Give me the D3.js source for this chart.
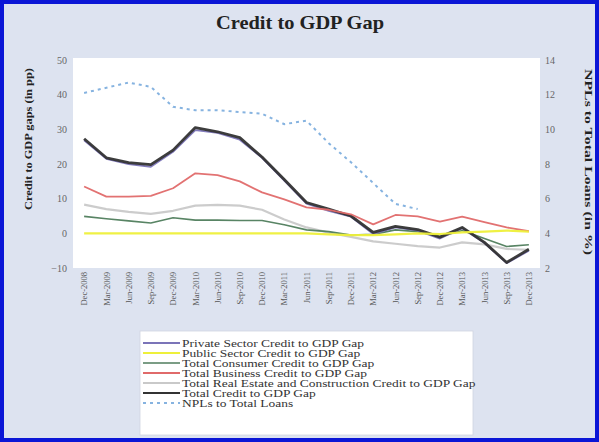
<!DOCTYPE html>
<html>
<head>
<meta charset="utf-8">
<script src="https://cdn.jsdelivr.net/npm/d3@7"></script>
<style>
  html, body { margin: 0; padding: 0; background: #fff; }
  svg { display: block; font-family: "Liberation Serif", "Times New Roman", serif; }
</style>
</head>
<body>
<svg id="chart" width="599" height="442"></svg>
<script>
// Quarterly periods
const quarters = [
  "Dec-2008", "Mar-2009", "Jun-2009", "Sep-2009", "Dec-2009", "Mar-2010", "Jun-2010",
  "Sep-2010", "Dec-2010", "Mar-2011", "Jun-2011", "Sep-2011", "Dec-2011", "Mar-2012",
  "Jun-2012", "Sep-2012", "Dec-2012", "Mar-2013", "Jun-2013", "Sep-2013", "Dec-2013"
];

// Credit to GDP gaps, percentage points (left axis)
const privateSector = [26.8, 21.5, 20.0, 19.2, 23.5, 29.8, 29.0, 27.0, 21.8, 15.2, 8.6, 6.5, 4.8, -0.2, 1.7, 0.8, -1.5, 1.5, -2.8, -8.6, -5.0];
const publicSector  = [0.0, 0.0, 0.0, 0.0, 0.0, 0.0, 0.0, 0.0, 0.0, 0.0, 0.0, -0.3, -0.5, -0.5, -0.3, 0.0, -0.2, 0.3, 0.5, 0.8, 0.5];
const consumer      = [4.9, 4.2, 3.6, 3.0, 4.5, 3.8, 3.8, 3.7, 3.7, 2.5, 1.0, 0.5, -0.5, -0.3, 1.0, 0.5, -1.0, 0.8, -1.5, -3.8, -3.3];
const business      = [13.5, 10.6, 10.6, 10.8, 13.0, 17.3, 16.8, 15.0, 11.8, 9.8, 7.5, 6.8, 5.5, 2.6, 5.3, 4.9, 3.4, 4.8, 3.2, 1.7, 0.6];
const realEstate    = [8.3, 7.0, 6.2, 5.6, 6.5, 8.0, 8.2, 8.0, 6.8, 4.0, 1.7, 0.2, -1.0, -2.3, -3.0, -3.7, -4.1, -2.6, -3.2, -4.5, -4.8];
const totalCredit   = [27.3, 21.8, 20.4, 19.8, 24.0, 30.5, 29.3, 27.6, 22.0, 15.5, 8.9, 7.0, 5.0, 0.3, 2.0, 1.1, -1.1, 1.7, -2.6, -8.4, -4.6];

// NPLs to total loans, % (right axis)
const npl = [12.1, 12.4, 12.7, 12.45, 11.3, 11.1, 11.1, 11.0, 10.9, 10.3, 10.5, 9.2, 8.1, 6.9, 5.7, 5.4, null, null, null, null, null];

const leftTicks  = [-10, 0, 10, 20, 30, 40, 50];
const rightTicks = [2, 4, 6, 8, 10, 12, 14];

const gapSeries = [
  { name: "Private Sector Credit to GDP Gap", values: privateSector, color: "#7b74b8", width: 1.8 },
  { name: "Public Sector Credit to GDP Gap", values: publicSector, color: "#eef03a", width: 2.2 },
  { name: "Total Consumer Credit to GDP Gap", values: consumer, color: "#4f7d5c", width: 1.6 },
  { name: "Total Business Credit to GDP Gap", values: business, color: "#e06a6a", width: 1.8 },
  { name: "Total Real Estate and Construction Credit to GDP Gap", values: realEstate, color: "#c9c9c9", width: 2.2 },
  { name: "Total Credit to GDP Gap", values: totalCredit, color: "#333333", width: 2.8 }
];
const nplSeries = { name: "NPLs to Total Loans", values: npl, color: "#86b3e0", width: 2, dash: "3,4" };

const svg = d3.select("#chart");
const W = 599, H = 442;

// Frame and background
svg.append("rect").attr("x", 2).attr("y", 2).attr("width", W - 4).attr("height", H - 4)
  .attr("fill", "#dde3f0").attr("stroke", "#0b16d6").attr("stroke-width", 4);

const plot = { left: 73, right: 540, top: 58, bottom: 268 };

svg.append("rect").attr("x", plot.left).attr("y", plot.top)
  .attr("width", plot.right - plot.left).attr("height", plot.bottom - plot.top)
  .attr("fill", "#ffffff");

const x = d3.scalePoint().domain(quarters).range([plot.left, plot.right]).padding(0.5);
const yL = d3.scaleLinear().domain([-10, 50]).range([plot.bottom, plot.top + 2]);
const yR = d3.scaleLinear().domain([2, 14]).range([plot.bottom, plot.top + 2]);

// Title
svg.append("text").attr("x", 300).attr("y", 29).attr("text-anchor", "middle")
  .attr("font-size", 19).attr("font-weight", "bold").attr("fill", "#222")
  .attr("textLength", 168).attr("lengthAdjust", "spacingAndGlyphs")
  .text("Credit to GDP Gap");

// Left axis
const axL = svg.append("g").attr("transform", `translate(${plot.left - 6},0)`)
  .call(d3.axisLeft(yL).tickValues(leftTicks).tickSize(0).tickPadding(0));
axL.select(".domain").remove();
axL.selectAll("text").attr("font-size", 10).attr("fill", "#666").attr("font-family", "Liberation Serif, serif");

// Right axis
const axR = svg.append("g").attr("transform", `translate(${plot.right + 5},0)`)
  .call(d3.axisRight(yR).tickValues(rightTicks).tickSize(0).tickPadding(0));
axR.select(".domain").remove();
axR.selectAll("text").attr("font-size", 10).attr("fill", "#666").attr("font-family", "Liberation Serif, serif");

// Category axis, labels rotated
const axX = svg.append("g").attr("transform", `translate(0,${plot.bottom})`)
  .call(d3.axisBottom(x).tickSize(0).tickPadding(0));
axX.select(".domain").remove();
axX.selectAll("text")
  .attr("font-size", 8.5).attr("fill", "#555").attr("font-family", "Liberation Serif, serif")
  .attr("text-anchor", "end").attr("dy", "0.32em")
  .attr("transform", "translate(0,4) rotate(-90)")
  .attr("x", 0).attr("y", 0);

// Axis titles
svg.append("text").attr("transform", "translate(32,139) rotate(-90)")
  .attr("text-anchor", "middle").attr("font-size", 11).attr("font-weight", "bold").attr("fill", "#222")
  .attr("textLength", 142).attr("lengthAdjust", "spacingAndGlyphs")
  .text("Credit to GDP gaps (in pp)");
svg.append("text").attr("transform", "translate(585,162) rotate(90)")
  .attr("text-anchor", "middle").attr("font-size", 11).attr("font-weight", "bold").attr("fill", "#222")
  .attr("textLength", 186).attr("lengthAdjust", "spacingAndGlyphs")
  .text("NPLs to Total Loans (in %)");

// Lines
const lineL = d3.line().defined(d => d != null).x((d, i) => x(quarters[i])).y(d => yL(d));
const lineR = d3.line().defined(d => d != null).x((d, i) => x(quarters[i])).y(d => yR(d));

const drawOrder = [gapSeries[4], gapSeries[2], gapSeries[0], gapSeries[5], gapSeries[3], gapSeries[1]];
drawOrder.forEach(s => {
  svg.append("path").datum(s.values).attr("d", lineL)
    .attr("fill", "none").attr("stroke", s.color).attr("stroke-width", s.width)
    .attr("stroke-linejoin", "round").attr("opacity", 0.95);
});
svg.append("path").datum(nplSeries.values).attr("d", lineR)
  .attr("fill", "none").attr("stroke", nplSeries.color).attr("stroke-width", nplSeries.width)
  .attr("stroke-dasharray", nplSeries.dash);

// Legend
const legend = svg.append("g");
legend.append("rect").attr("x", 140).attr("y", 331).attr("width", 333).attr("height", 104)
  .attr("fill", "#ffffff").attr("stroke", "#d0d4e0").attr("stroke-width", 0.8);
const legendItems = gapSeries.concat([nplSeries]);
legendItems.forEach((s, k) => {
  const yy = 343 + k * 10;
  legend.append("line").attr("x1", 143).attr("x2", 180).attr("y1", yy).attr("y2", yy)
    .attr("stroke", s.color).attr("stroke-width", Math.min(s.width, 1.8))
    .attr("stroke-dasharray", s.dash || null);
  const t = legend.append("text").attr("x", 182).attr("y", yy + 3.5)
    .attr("font-size", 10.5).attr("fill", "#333").text(s.name);
  // widen glyphs horizontally to fill the legend box
  const w = t.node().getComputedTextLength();
  t.attr("textLength", w * 1.28).attr("lengthAdjust", "spacingAndGlyphs");
});
</script>
</body>
</html>
